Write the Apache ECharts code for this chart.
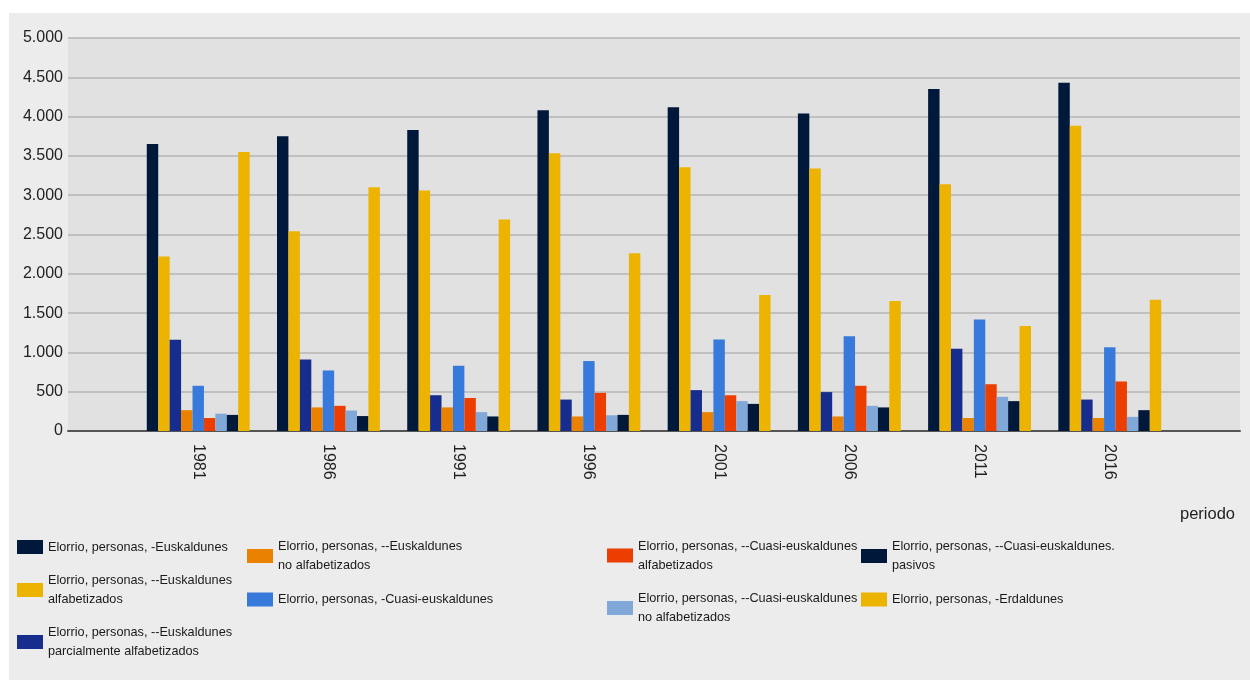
<!DOCTYPE html>
<html>
<head>
<meta charset="utf-8">
<script src="https://cdn.jsdelivr.net/npm/echarts@6/dist/echarts.min.js"></script>
<style>
  html, body { margin: 0; padding: 0; background: #ffffff; }
  #chart { position: absolute; left: 9px; top: 13px; width: 1241px; height: 667px; background: #ececec; }
</style>
</head>
<body>
<div id="chart"></div>
<script>
const periods = ['1981', '1986', '1991', '1996', '2001', '2006', '2011', '2016']

const seriesNames = [
  'Elorrio, personas, -Euskaldunes',
  'Elorrio, personas, --Euskaldunes alfabetizados',
  'Elorrio, personas, --Euskaldunes parcialmente alfabetizados',
  'Elorrio, personas, --Euskaldunes no alfabetizados',
  'Elorrio, personas, -Cuasi-euskaldunes',
  'Elorrio, personas, --Cuasi-euskaldunes alfabetizados',
  'Elorrio, personas, --Cuasi-euskaldunes no alfabetizados',
  'Elorrio, personas, --Cuasi-euskaldunes. pasivos',
  'Elorrio, personas, -Erdaldunes'
]

const euskaldunes = [3650, 3750, 3830, 4080, 4120, 4040, 4350, 4430]
const euskAlfabetizados = [2220, 2540, 3060, 3535, 3355, 3340, 3140, 3885]
const euskParcialmente = [1160, 910, 455, 400, 520, 495, 1045, 400]
const euskNoAlfabetizados = [265, 300, 300, 185, 240, 185, 165, 165]
const cuasiEuskaldunes = [575, 770, 830, 890, 1165, 1205, 1420, 1065]
const cuasiAlfabetizados = [165, 320, 420, 485, 455, 575, 595, 630]
const cuasiNoAlfabetizados = [220, 260, 240, 200, 380, 320, 435, 180]
const cuasiPasivos = [205, 190, 185, 205, 345, 300, 380, 265]
const erdaldunes = [3550, 3100, 2690, 2260, 1730, 1655, 1335, 1670]

const seriesValues = [
  euskaldunes, euskAlfabetizados, euskParcialmente, euskNoAlfabetizados,
  cuasiEuskaldunes, cuasiAlfabetizados, cuasiNoAlfabetizados, cuasiPasivos, erdaldunes
]

const colors = ['#00183a', '#ecb300', '#172d8d', '#ea8200', '#377adc', '#ec3e00', '#80a9d9', '#00183a', '#ecb300']

// legend text as shown (line breaks)
const legendText = {
  'Elorrio, personas, --Euskaldunes alfabetizados': 'Elorrio, personas, --Euskaldunes\nalfabetizados',
  'Elorrio, personas, --Euskaldunes parcialmente alfabetizados': 'Elorrio, personas, --Euskaldunes\nparcialmente alfabetizados',
  'Elorrio, personas, --Euskaldunes no alfabetizados': 'Elorrio, personas, --Euskaldunes\nno alfabetizados',
  'Elorrio, personas, --Cuasi-euskaldunes alfabetizados': 'Elorrio, personas, --Cuasi-euskaldunes\nalfabetizados',
  'Elorrio, personas, --Cuasi-euskaldunes no alfabetizados': 'Elorrio, personas, --Cuasi-euskaldunes\nno alfabetizados',
  'Elorrio, personas, --Cuasi-euskaldunes. pasivos': 'Elorrio, personas, --Cuasi-euskaldunes.\npasivos'
}

// legend slots: [left, top] for each series
const legendPos = [
  [8, 524.5], [8, 558], [8, 610],
  [238, 524], [238, 577],
  [598, 523.5], [598, 576],
  [852, 524], [852, 577]
]

const fmtThousands = v => String(v).replace(/\B(?=(\d{3})+(?!\d))/g, '.')

const chart = echarts.init(document.getElementById('chart'))

const option = {
  backgroundColor: '#ececec',
  animation: false,
  textStyle: { fontFamily: '"Liberation Sans", Arial, sans-serif' },
  grid: {
    left: 59, right: 10, top: 25, bottom: 249,
    show: true, backgroundColor: '#e1e1e1', borderWidth: 0
  },
  legend: seriesNames.map((name, i) => ({
    data: [name],
    left: legendPos[i][0],
    top: legendPos[i][1],
    padding: 0,
    itemWidth: 26,
    itemHeight: 14,
    icon: 'rect',
    selectedMode: false,
    formatter: n => legendText[n] || n,
    textStyle: { fontSize: 12.7, lineHeight: 19, color: '#1a1a1a' }
  })),
  xAxis: {
    type: 'category',
    data: ['', ...periods, ''],
    boundaryGap: false,
    axisTick: { show: false },
    axisLine: { lineStyle: { color: '#555', width: 2 } },
    axisLabel: { rotate: -90, fontSize: 16, color: '#222', margin: 13, interval: 0 },
    splitLine: { show: false }
  },
  yAxis: {
    type: 'value',
    min: 0, max: 5000, interval: 500,
    axisLine: { show: false },
    axisTick: { show: false },
    axisLabel: { fontSize: 16, color: '#222', margin: 5, formatter: fmtThousands },
    splitLine: { lineStyle: { color: '#b5b5b5', width: 1.5 } }
  },
  graphic: [
    {
      type: 'text', right: 15, top: 493,
      style: { text: 'periodo', fontSize: 16.5, fill: '#222', fontFamily: '"Liberation Sans", Arial, sans-serif' }
    }
  ],
  series: seriesNames.map((name, i) => ({
    name,
    type: 'bar',
    barGap: '0%',
    barCategoryGap: '21%',
    itemStyle: { color: colors[i] },
    data: [null, ...seriesValues[i], null]
  }))
}

chart.setOption(option)
</script>
</body>
</html>
